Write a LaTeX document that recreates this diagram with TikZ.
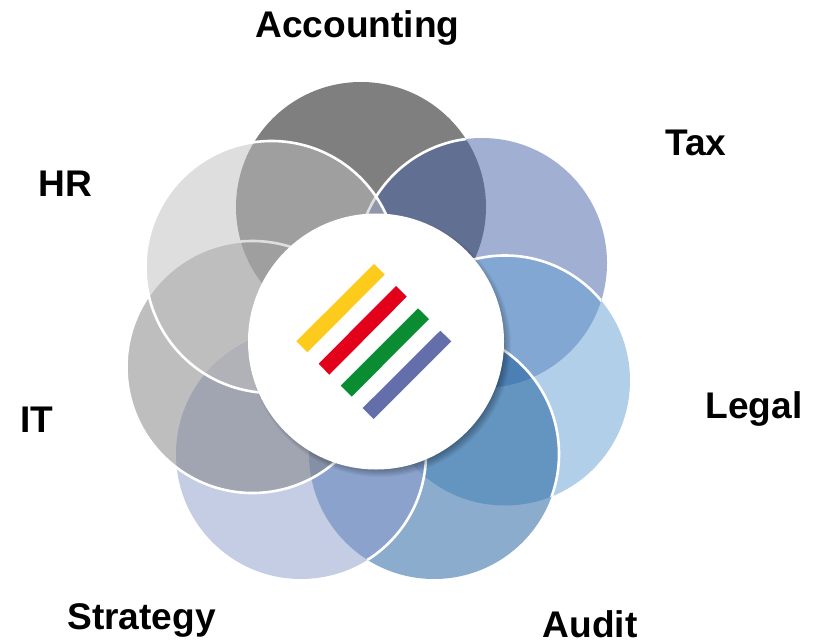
\documentclass[tikz,border=0pt]{standalone}
\usepackage{fontspec}
\setmainfont{Liberation Sans}
\usetikzlibrary{calc}
\definecolor{cAcct}{HTML}{7F7F7F}
\definecolor{cTax}{HTML}{4461A8}
\definecolor{cLegal}{HTML}{64A0D2}
\definecolor{cAudit}{HTML}{185A9A}
\definecolor{cStrat}{HTML}{8C9CCC}
\definecolor{cIT}{HTML}{7F7F7F}
\definecolor{cHR}{HTML}{BFBFBF}
\definecolor{barY}{HTML}{FDCB1B}
\definecolor{barR}{HTML}{E2001A}
\definecolor{barG}{HTML}{0A8C33}
\definecolor{barB}{HTML}{646EAB}
\tikzset{
  petal/.style={fill=#1,fill opacity=0.5,draw=none},
  rim/.style={draw=white,line width=2.6pt},
  lbl/.style={font=\fontsize{37.1}{40}\selectfont\bfseries,anchor=base,inner sep=0pt,text=black},
  haze/.style={fill=black,fill opacity=0.04,draw=none}
}
\begin{document}
\begin{tikzpicture}[x=1pt,y=-1pt]
\useasboundingbox (0,0) rectangle (818,644);
\fill[white] (0,0) rectangle (818,644);
\def\R{125}
\def\Rr{126}
\coordinate (acct) at (361,207);
\coordinate (tax) at (482,263);
\coordinate (legal) at (505,380.5);
\coordinate (audit) at (434,454);
\coordinate (strat) at (301,454);
\coordinate (it) at (252.5,367);
\coordinate (hr) at (271.5,267);
\coordinate (hub) at (376,341.5);
% petals, bottom to top
\fill[cAcct] (acct) circle[radius=\R];
\path[petal=cTax] (tax) circle[radius=\R];
\begin{scope}\clip (acct) circle[radius=\R]; \path[rim] (tax) circle[radius=\R]; \end{scope}
\path[petal=cLegal] (legal) circle[radius=\R];
\begin{scope}\clip (tax) circle[radius=\R]; \path[rim] (legal) circle[radius=\R]; \end{scope}
\path[petal=cAudit] (audit) circle[radius=\R];
\begin{scope}\clip (legal) circle[radius=\R]; \path[rim] (audit) circle[radius=\R]; \end{scope}
\path[petal=cStrat] (strat) circle[radius=\R];
\begin{scope}\clip (audit) circle[radius=\R]; \path[rim] (strat) circle[radius=\R]; \end{scope}
\path[petal=cIT] (it) circle[radius=\Rr];
\path[rim] (it) circle[radius=\Rr];
\path[petal=cHR] (hr) circle[radius=\Rr];
\path[rim] (hr) circle[radius=\Rr];
% soft shadow of the hub, falling to the lower right only
\foreach \s in {0,1,...,11}{
  \path[haze] ($(hub)+(4,4.5)$) circle[radius={131-\s}];
}
\fill[white] (hub) circle[radius=128];
% logo bars
\fill[barY] (374,264) -- (384.7,274.7) -- (307.3,352.3) -- (296.3,341.3) -- cycle;
\fill[barR] (396,286) -- (406.7,296.7) -- (329.3,374.7) -- (318.7,363.7) -- cycle;
\fill[barG] (418,308.3) -- (429,319) -- (351.7,396.7) -- (340.7,385.7) -- cycle;
\fill[barB] (440.3,330.7) -- (451.3,341.3) -- (373.7,419) -- (362.7,408) -- cycle;
% labels
\node[lbl] (tAcct) at (357.5,38) {Accounting};
\node[lbl] (tTax) at (696,156) {Tax};
\node[lbl] (tHR) at (65.5,197) {HR};
\node[lbl] (tLegal) at (754,418) {Legal};
\node[lbl] (tIT) at (37,432) {IT};
\node[lbl] (tStrat) at (141.5,629) {Strategy};
\node[lbl] (tAudit) at (590,637) {Audit};
\end{tikzpicture}
\end{document}
